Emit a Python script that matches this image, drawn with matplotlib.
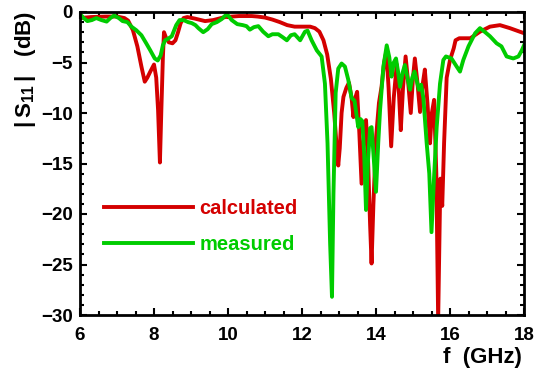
import matplotlib
matplotlib.use("Agg")
import matplotlib.pyplot as plt
from matplotlib.ticker import MultipleLocator

plt.rcParams['font.family'] = ['Liberation Sans', 'DejaVu Sans']
plt.rcParams['font.weight'] = 'bold'
plt.rcParams['mathtext.fontset'] = 'custom'
plt.rcParams['mathtext.rm'] = 'Liberation Sans'
plt.rcParams['mathtext.bf'] = 'Liberation Sans:bold'

# calculated |S11| (dB) vs frequency (GHz)
calc_f = [6.00, 6.30, 6.70, 7.00, 7.20, 7.30, 7.43, 7.55, 7.66, 7.75, 7.82, 7.90,
          8.00, 8.06, 8.11, 8.16, 8.20, 8.24, 8.27, 8.32, 8.40, 8.50, 8.58, 8.65,
          8.72, 8.80, 8.90, 9.10, 9.38, 9.60, 9.92, 10.30, 10.64, 10.80, 11.00,
          11.20, 11.40, 11.60, 11.80, 12.00, 12.22, 12.35, 12.47, 12.58, 12.68,
          12.78, 12.87, 12.94, 12.98, 13.02, 13.07, 13.12, 13.20, 13.27, 13.34,
          13.39, 13.44, 13.49, 13.55, 13.61, 13.67, 13.73, 13.78, 13.84, 13.88,
          13.93, 14.00, 14.08, 14.15, 14.22, 14.28, 14.34, 14.41, 14.48, 14.56,
          14.62, 14.67, 14.73, 14.80, 14.87, 14.94, 15.00, 15.05, 15.12, 15.19,
          15.26, 15.32, 15.39, 15.46, 15.51, 15.57, 15.63, 15.68, 15.74, 15.79,
          15.84, 15.91, 16.00, 16.10, 16.15, 16.25, 16.55, 16.81, 17.08, 17.35,
          17.62, 18.00]
calc_db = [-0.6, -0.5, -0.45, -0.45, -0.6, -0.85, -1.8, -3.4, -5.4, -6.9, -6.5, -5.9,
           -5.2, -6.5, -9.7, -14.9, -9.5, -4.5, -2.0, -2.5, -3.0, -3.1, -2.8, -2.0,
           -1.1, -0.6, -0.5, -0.65, -0.9, -0.8, -0.5, -0.4, -0.4, -0.45, -0.55,
           -0.75, -1.0, -1.3, -1.45, -1.45, -1.45, -1.6, -1.95, -2.8, -4.2,
           -6.6, -10.0, -13.5, -15.2, -13.5, -10.0, -8.4, -7.5, -7.0, -8.5,
           -10.4, -8.5, -7.9, -12.0, -17.0, -12.5, -10.7, -14.0, -21.0, -24.9,
           -19.0, -12.5, -9.0, -7.4, -5.0, -3.9, -7.5, -13.3, -8.5, -5.2,
           -8.0, -11.7, -7.5, -4.4, -7.0, -10.0, -6.5, -4.6, -7.0, -9.9,
           -7.2, -5.7, -9.0, -13.0, -10.0, -8.7, -16.0, -30.5, -16.5, -19.2,
           -13.0, -6.5, -4.75, -3.6, -2.8, -2.6, -2.6, -1.95, -1.45, -1.3,
           -1.6, -2.1]

# measured |S11| (dB) vs frequency (GHz)
meas_f = [6.00, 6.10, 6.20, 6.32, 6.44, 6.58, 6.72, 6.82, 6.92, 7.05, 7.15, 7.28,
          7.39, 7.52, 7.66, 7.79, 7.90, 8.02, 8.10, 8.18, 8.24, 8.30, 8.40, 8.48,
          8.60, 8.69, 8.80, 8.92, 9.02, 9.12, 9.20, 9.33, 9.45, 9.56, 9.70, 9.83,
          9.97, 10.10, 10.25, 10.40, 10.50, 10.59, 10.70, 10.82, 10.95, 11.09,
          11.20, 11.36, 11.48, 11.59, 11.70, 11.80, 11.95, 12.08, 12.15, 12.26,
          12.40, 12.53, 12.62, 12.69, 12.76, 12.81, 12.85, 12.91, 12.98, 13.07,
          13.16, 13.25, 13.34, 13.42, 13.52, 13.58, 13.63, 13.68, 13.73, 13.78,
          13.84, 13.88, 13.93, 14.00, 14.06, 14.11, 14.20, 14.29, 14.36, 14.42,
          14.48, 14.54, 14.60, 14.65, 14.72, 14.78, 14.85, 14.92, 14.98, 15.04,
          15.10, 15.16, 15.22, 15.28, 15.37, 15.44, 15.50, 15.56, 15.64, 15.73,
          15.82, 15.89, 16.04, 16.18, 16.27, 16.36, 16.50, 16.68, 16.81, 16.95,
          17.08, 17.26, 17.39, 17.53, 17.71, 17.85, 17.94, 18.00]
meas_db = [-0.2, -0.6, -0.9, -0.8, -0.6, -0.8, -0.95, -0.6, -0.35, -0.6, -0.9, -1.0,
           -1.45, -1.8, -2.3, -3.1, -3.8, -4.6, -4.8, -4.3, -3.3, -2.8, -2.6, -2.4,
           -1.3, -0.8, -0.8, -1.0, -1.1, -1.3, -1.6, -2.0, -1.7, -1.2, -1.0, -0.7,
           -0.2, -0.8, -1.2, -1.3, -1.4, -1.75, -1.5, -1.4, -1.95, -2.4,
           -2.2, -2.2, -2.5, -2.8, -2.3, -2.2, -2.8, -1.95, -1.85, -2.8,
           -3.8, -4.4, -7.1, -13.0, -22.9, -28.2, -18.0, -8.0, -5.6, -5.1,
           -5.4, -6.7, -8.5, -8.8, -11.4, -10.6, -10.8, -14.0, -19.6, -15.0,
           -11.5, -11.4, -14.0, -17.8, -13.0, -9.7, -5.4, -3.3, -4.5, -6.4,
           -5.0, -4.6, -6.0, -7.4, -6.0, -5.25, -6.5, -7.7, -6.5, -5.9,
           -6.8, -7.7, -7.2, -8.5, -13.0, -16.0, -21.8, -17.0, -11.4, -7.1,
           -4.75, -4.4, -4.6, -5.4, -5.9, -4.75, -3.4, -2.1, -1.6, -2.0,
           -2.4, -3.1, -3.4, -4.4, -4.6, -4.4, -3.8, -3.3]

red = '#d40000'
green = '#00cc00'

fig = plt.figure(figsize=(5.38, 3.71), dpi=100)
ax = fig.add_axes([80 / 538, 1 - 315 / 371, 444 / 538, 303 / 371])

ax.plot(calc_f, calc_db, color=red, lw=2.8, label='calculated', solid_joinstyle='round')
ax.plot(meas_f, meas_db, color=green, lw=2.8, label='measured', solid_joinstyle='round')

ax.set_xlim(6, 18)
ax.set_ylim(-30, 0)
ax.xaxis.set_major_locator(MultipleLocator(2))
ax.xaxis.set_minor_locator(MultipleLocator(0.5))
ax.yaxis.set_major_locator(MultipleLocator(5))
ax.yaxis.set_minor_locator(MultipleLocator(1))
ax.tick_params(which='both', direction='in', top=True, right=True, width=1.5,
               labelsize=13.5)
ax.tick_params(which='major', length=5)
ax.tick_params(which='minor', length=3)
ax.tick_params(axis='y', pad=5)
ax.tick_params(axis='x', pad=9)
for lbl in ax.get_xticklabels() + ax.get_yticklabels():
    lbl.set_fontweight('bold')
for sp in ax.spines.values():
    sp.set_linewidth(2)

leg = ax.legend(loc='center left', bbox_to_anchor=(24 / 444, (315 - 226.5) / 303),
                frameon=False, fontsize=14.5, handlelength=4.4, handletextpad=0.35,
                labelspacing=0.85, borderpad=0, borderaxespad=0, labelcolor='linecolor')
for t in leg.get_texts():
    t.set_fontweight('bold')

fig.text(522 / 538, 1 - 358 / 371, 'f  (GHz)', ha='right', va='center',
         fontsize=16, fontweight='bold')
fig.text(26 / 538, 1 - 69 / 371, r'$|\,\mathbf{S}_{\mathbf{11}}\,|$   (dB)', rotation=90,
         ha='center', va='center', fontsize=16, fontweight='bold')

fig.savefig('out.png', dpi=100)
